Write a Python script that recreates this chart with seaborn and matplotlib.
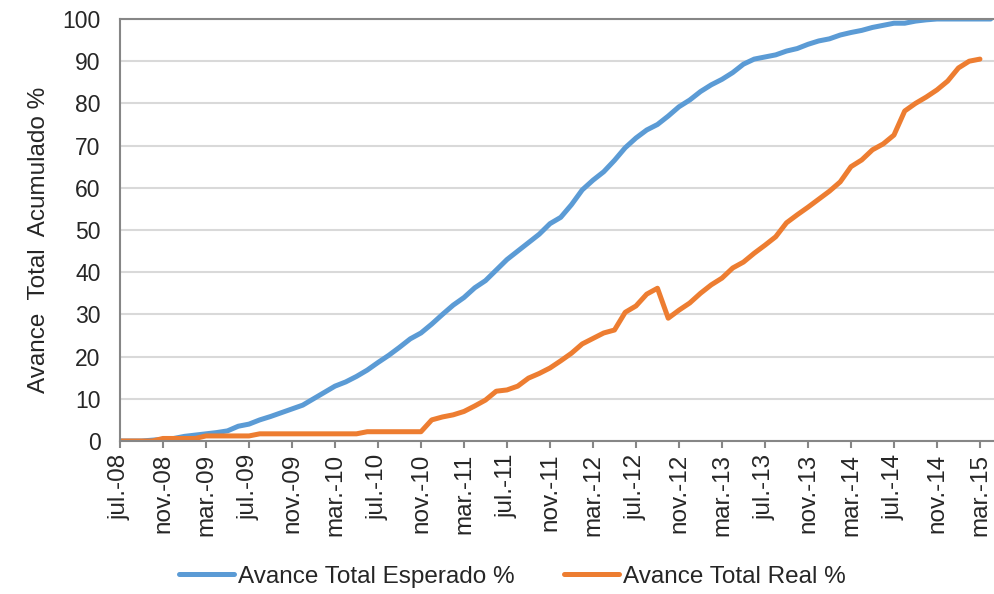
import numpy as np
import pandas as pd
import matplotlib
matplotlib.use("Agg")
import matplotlib.pyplot as plt
import seaborn as sns

# ─── Data (one point per month from jul-08) ─────────────────────────────────

esperado = [
    0, 0, 0, 0.2, 0.4, 0.6, 1.1, 1.4, 1.7, 2.0, 2.4, 3.5, 4.0, 5.0, 5.8, 6.7,
    7.6, 8.5, 10.0, 11.5, 13.0, 14.0, 15.3, 16.8, 18.6, 20.3, 22.2, 24.2, 25.6,
    27.7, 30.0, 32.2, 34.0, 36.3, 38.0, 40.5, 43.0, 45.0, 47.0, 49.0, 51.5,
    53.0, 56.0, 59.5, 61.8, 63.8, 66.5, 69.5, 71.8, 73.7, 75.0, 77.0, 79.2,
    80.8, 82.8, 84.4, 85.7, 87.3, 89.3, 90.5, 91.0, 91.5, 92.4, 93.0, 94.0,
    94.8, 95.3, 96.2, 96.8, 97.3, 98.0, 98.5, 99.0, 99.0, 99.5, 99.8,
    100, 100, 100, 100, 100, 100,
]

real = [
    0, 0, 0, 0, 0.6, 0.6, 0.6, 0.6, 1.2, 1.2, 1.2, 1.2, 1.2,
    1.7, 1.7, 1.7, 1.7, 1.7, 1.7, 1.7, 1.7, 1.7, 1.7,
    2.2, 2.2, 2.2, 2.2, 2.2, 2.2,
    5.0, 5.7, 6.2, 7.0, 8.3, 9.7, 11.8, 12.1, 13.0, 14.9, 16.0, 17.3, 19.0,
    20.8, 23.0, 24.3, 25.6, 26.3, 30.5, 32.0, 34.8, 36.2, 29.1, 31.0, 32.7,
    35.0, 37.0, 38.6, 41.0, 42.4, 44.5, 46.4, 48.4, 51.7, 53.6, 55.4, 57.3,
    59.2, 61.4, 65.0, 66.6, 69.0, 70.4, 72.5, 78.2, 80.0, 81.5, 83.2, 85.3,
    88.4, 90.0, 90.5,
]

tick_labels = [
    "jul.-08", "nov.-08", "mar.-09", "jul.-09", "nov.-09", "mar.-10",
    "jul.-10", "nov.-10", "mar.-11", "jul.-11", "nov.-11", "mar.-12",
    "jul.-12", "nov.-12", "mar.-13", "jul.-13", "nov.-13", "mar.-14",
    "jul.-14", "nov.-14", "mar.-15",
]

series_names = ["Avance Total Esperado %", "Avance Total Real %"]
colors = ["#5B9BD5", "#ED7D31"]

# ─── Styling ─────────────────────────────────────────────────────────────────

sns.set_theme(style="white")
plt.rcParams["font.family"] = ["Liberation Sans", "DejaVu Sans"]
FS = 17.5
FS_Y = 16.5

df = pd.concat([
    pd.DataFrame({"mes": np.arange(len(esperado)), "valor": esperado, "serie": series_names[0]}),
    pd.DataFrame({"mes": np.arange(len(real)), "valor": real, "serie": series_names[1]}),
])

fig = plt.figure(figsize=(9.95, 5.94), dpi=100)
ax = fig.add_axes([120 / 995, 1 - 441 / 594, 875 / 995, 422 / 594])

sns.lineplot(data=df, x="mes", y="valor", hue="serie", palette=colors,
             linewidth=3.6, ax=ax, legend=False, clip_on=True,
             solid_capstyle="round", solid_joinstyle="round")

ax.set_xlim(0, 81.4)
ax.set_ylim(0, 100)
ax.set_yticks(np.arange(0, 101, 10))
ax.set_xticks(np.arange(0, 4 * len(tick_labels), 4))
ax.set_xticklabels(tick_labels, rotation=90, fontsize=FS)
ax.tick_params(axis="y", labelsize=FS_Y, length=0, pad=14)
ax.tick_params(axis="x", length=5, width=1.5, color="#868686", pad=4, bottom=True)

ax.grid(axis="y", color="#D9D9D9", linewidth=1.5)
ax.set_axisbelow(True)
for side in ["left", "bottom", "top"]:
    ax.spines[side].set_color("#868686")
    ax.spines[side].set_linewidth(1.5)
ax.spines["right"].set_visible(False)

ax.set_xlabel("")
ax.set_ylabel("Avance  Total  Acumulado %", fontsize=FS)
ax.yaxis.set_label_coords(-0.080, 0.476)

handles = [plt.Line2D([], [], color=c, linewidth=3.6, solid_capstyle="round") for c in colors]
fig.legend(handles, series_names, loc="center", bbox_to_anchor=(0.515, 0.029),
           ncol=2, frameon=False, fontsize=FS, handlelength=2.26,
           handletextpad=0.2, columnspacing=2.0)

fig.savefig("out.png", dpi=100)
